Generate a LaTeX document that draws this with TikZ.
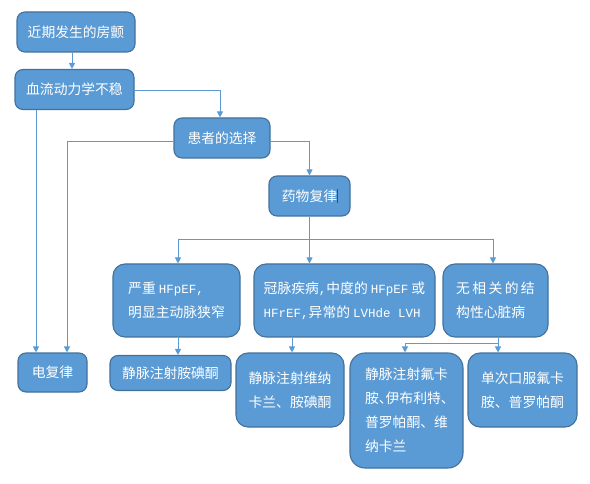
\documentclass[tikz,border=0pt]{standalone}
\usepackage{fontspec}
\setmainfont{Noto Sans CJK SC}
\newfontfamily\latm{Liberation Mono}
\usetikzlibrary{arrows.meta}
\definecolor{boxfill}{HTML}{5B9BD5}
\definecolor{boxline}{HTML}{41719C}
\definecolor{conn}{HTML}{5B9BD5}
\newcommand{\lt}[1]{{\latm\fontsize{12.5}{24}\selectfont #1}}
\newcommand{\hd}{\makebox[6.75pt][l]{、}}
\tikzset{
  flowbox/.style={draw=boxline, line width=1.1pt, fill=boxfill, text=white,
    rectangle, rounded corners=#1, inner sep=0pt, align=left,
    font=\fontsize{13.8}{24}\selectfont},
  flowbox/.default=8pt,
  arr/.style={draw=conn, line width=0.9pt, -{Triangle[length=6pt,width=6pt]}},
  ln/.style={draw=conn, line width=0.9pt}
}
\begin{document}
\begin{tikzpicture}[x=1pt,y=-1pt]
\fill[white] (0,0) rectangle (590,484);
\useasboundingbox (0,0) rectangle (590,484);

\node[flowbox, minimum width=118pt, minimum height=40pt] (b1) at (76,32) {近期发生的房颤};
\node[flowbox, minimum width=119pt, minimum height=40pt] (b2) at (74.5,89.5) {血流动力学不稳};
\node[flowbox, minimum width=96pt, minimum height=40pt] (b3) at (222,138) {患者的选择};
\node[flowbox, minimum width=81pt, minimum height=40pt] (b4) at (309.5,196) {药物复律};
\draw[black!70, line width=0.7pt] (337,189.5) -- (337,203);

\node[flowbox=12pt, minimum width=127pt, minimum height=73pt] (b5) at (176.5,300.5)
  {严重 \lt{HFpEF,}\\明显主动脉狭窄};
\node[flowbox=12pt, minimum width=181pt, minimum height=73pt] (b6) at (344.5,300.5)
  {冠脉疾病\lt{,}中度的 \lt{HFpEF} 或\\\lt{HFrEF,}异常的 \lt{LVHde LVH}};
\node[flowbox=12pt, minimum width=105pt, minimum height=73pt] (b7) at (495.5,300.5)
  {无\hspace{2.4pt}相\hspace{2.4pt}关\hspace{2.4pt}的\hspace{2.4pt}结\\构性心脏病};

\node[flowbox, minimum width=69pt, minimum height=39pt] (c1) at (52.5,372.5) {电复律};
\node[flowbox, minimum width=121pt, minimum height=35pt] (c2) at (170.5,373) {静脉注射胺碘酮};
\node[flowbox=12pt, minimum width=108pt, minimum height=74pt] (c3) at (290,390)
  {静脉注射维纳\\卡兰、胺碘酮};
\node[flowbox=15pt, minimum width=113pt, minimum height=115pt] (c4) at (406.5,410.5)
  {静脉注射氟卡\\胺\hd 伊布利特\hd\\普罗帕酮、维\\纳卡兰};
\node[flowbox=12pt, minimum width=109pt, minimum height=74pt] (c5) at (522.5,390)
  {单次口服氟卡\\胺、普罗帕酮};

% connectors
\coordinate (j1) at (220,90);
\coordinate (j2) at (67,141);
\coordinate (j3) at (309.5,141);
\coordinate (hl) at (178,239);
\coordinate (hr) at (493,239);
\coordinate (br) at (498,343);
\coordinate (bl) at (405,343);

\draw[arr] (b1.south -| 72,0) -- (b2.north -| 72,0);
\draw[arr] (b2.east |- j1) -- (j1) -- (b3.north -| j1);
\draw[arr] (b2.south -| 36,0) -- (c1.north -| 36,0);
\draw[arr] (b3.west |- j2) -- (j2) -- (c1.north -| j2);
\draw[arr] (b3.east |- j3) -- (j3) -- (b4.north);
\draw[arr] (b4.south) -- (b6.north -| b4.south);
\draw[ln] (hl) -- (hr);
\draw[arr] (hl) -- (b5.north -| hl);
\draw[arr] (hr) -- (b7.north -| hr);
\draw[arr] (b5.south -| hl) -- (c2.north -| hl);
\draw[arr] (b6.south -| 292,0) -- (c3.north -| 292,0);
\draw[arr] (b7.south -| br) -- (c5.north -| br);
\draw[arr] (br) -- (bl) -- (c4.north -| bl);
\end{tikzpicture}
\end{document}
